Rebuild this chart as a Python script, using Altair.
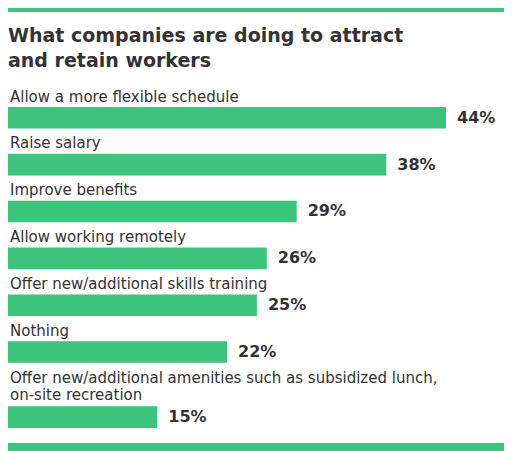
import pandas as pd
import altair as alt

# Survey results: share of companies using each tactic
title_lines = ["What companies are doing to attract", "and retain workers"]
categories = [
    "Allow a more flexible schedule",
    "Raise salary",
    "Improve benefits",
    "Allow working remotely",
    "Offer new/additional skills training",
    "Nothing",
    "Offer new/additional amenities such as subsidized lunch,\non-site recreation",
]
values = [44, 38, 29, 26, 25, 22, 15]

GREEN = "#3cc47c"
INK = "#333333"
FONT = "DejaVu Sans"
W, H = 496, 443
PITCH = 46.86   # pixels per row
FIRST = 99      # pixel position of the first bar's top edge
BAR = 0.46      # bar thickness, in rows
LINE = 0.388    # extra room for each extra label line, in rows

df = pd.DataFrame({"label": categories, "value": values})
# rows with a wrapped label get pushed down by one text line
wraps = df["label"].str.count("\n")
df["top"] = df.index + wraps.cumsum() * LINE
df["bottom"] = df["top"] + BAR
df["mid"] = df["top"] + BAR / 2
df["label_y"] = df["top"] - wraps * LINE
df["pct"] = df["value"].astype(str) + "%"

xs = alt.Scale(domain=[0, W / 9.955])
ys = alt.Scale(domain=[-FIRST / PITCH, (H - FIRST) / PITCH], range=[0, H])

base = alt.Chart(df)

bars = base.mark_rect(color=GREEN).encode(
    x=alt.X("value:Q", scale=xs, axis=None),
    x2=alt.datum(0),
    y=alt.Y("top:Q", scale=ys, axis=None),
    y2="bottom:Q",
)

labels = base.mark_text(
    align="left", baseline="alphabetic", lineBreak="\n", lineHeight=17,
    font=FONT, fontSize=15, color=INK, dy=-5.5,
).encode(
    x=alt.value(2),
    y=alt.Y("label_y:Q", scale=ys, axis=None),
    text="label:N",
)

pcts = base.mark_text(
    align="left", baseline="middle", dx=11,
    font=FONT, fontSize=16, fontWeight="bold", color=INK,
).encode(
    x=alt.X("value:Q", scale=xs, axis=None),
    y=alt.Y("mid:Q", scale=ys, axis=None),
    text="pct:N",
)

one = alt.Chart(pd.DataFrame({"k": [0]}))

title = one.mark_text(
    text=title_lines, align="left", baseline="alphabetic", lineHeight=25,
    font=FONT, fontSize=19, fontWeight="bold", color=INK,
).encode(x=alt.value(0), y=alt.value(34))

top_band = one.mark_rect(color=GREEN).encode(
    x=alt.value(0), x2=alt.value(W), y=alt.value(0), y2=alt.value(4)
)
bottom_band = one.mark_rect(color=GREEN).encode(
    x=alt.value(0), x2=alt.value(W), y=alt.value(H - 8), y2=alt.value(H)
)

chart = alt.layer(top_band, bottom_band, title, bars, labels, pcts).properties(
    width=W, height=H, padding=0,
    autosize=alt.AutoSizeParams(type="none"),
).configure_view(strokeWidth=0)

chart.save("out.html", embed_options={"renderer": "svg", "actions": False})
